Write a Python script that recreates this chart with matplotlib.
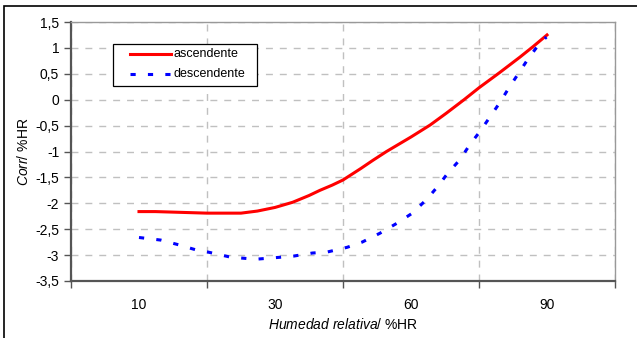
import matplotlib
matplotlib.use('Agg')
import matplotlib.pyplot as plt
from matplotlib.patches import Rectangle
from matplotlib.lines import Line2D

plt.rcParams['font.family'] = ['Liberation Sans', 'DejaVu Sans']
plt.rcParams['mathtext.fontset'] = 'custom'
plt.rcParams['mathtext.rm'] = 'Liberation Sans'
plt.rcParams['mathtext.it'] = 'Liberation Sans:italic'

# category labels on the x axis
hr_labels = ['10', '30', '60', '90']
series_names = ['ascendente', 'descendente']

# curves (x in category units: 0 -> "10", 3 -> "90")
asc_pos = [0.0, 0.12, 0.5, 0.75, 0.87, 1.0, 1.13, 1.25, 1.33, 1.42, 1.5,
           1.63, 1.72, 1.82, 1.91, 2.0, 2.14, 2.26, 2.39, 2.5, 2.65, 2.8,
           2.9, 3.0]
asc_val = [-2.16, -2.16, -2.19, -2.19, -2.15, -2.08, -1.98, -1.85, -1.75,
           -1.65, -1.55, -1.33, -1.17, -1.0, -0.86, -0.72, -0.49, -0.26,
           0.0, 0.23, 0.52, 0.82, 1.03, 1.25]

des_pos = [0.0, 0.16, 0.29, 0.42, 0.505, 0.674, 0.857, 1.0, 1.135, 1.275,
           1.385, 1.53, 1.64, 1.77, 1.90, 2.01, 2.117, 2.198, 2.27, 2.359,
           2.432, 2.505, 2.579, 2.652, 2.718, 2.791, 2.864, 2.938, 2.996]
des_val = [-2.66, -2.71, -2.80, -2.90, -2.94, -3.04, -3.08, -3.05, -3.02,
           -2.96, -2.94, -2.85, -2.75, -2.58, -2.38, -2.19, -1.92, -1.67,
           -1.42, -1.16, -0.87, -0.62, -0.34, -0.06, 0.22, 0.51, 0.80, 1.06,
           1.21]

y_ticks = [1.5, 1, 0.5, 0, -0.5, -1, -1.5, -2, -2.5, -3, -3.5]

W, H = 637, 338
fig = plt.figure(figsize=(W / 100, H / 100), dpi=100)
ax = fig.add_axes([71 / W, 1 - 281 / H, 544 / W, 259 / H])

colors = ['#ff0000', '#0000ff']
ax.plot(asc_pos, asc_val, color=colors[0], lw=2.2, solid_joinstyle='round')
ax.plot(des_pos, des_val, color=colors[1], lw=2.2, dashes=(1.7, 4.0),
        dash_capstyle='butt')

ax.set_xlim(-0.5, 3.5)
ax.set_ylim(-3.5, 1.5)

# category axis: ticks/grid at boundaries, labels centered
ax.set_xticks([-0.5, 0.5, 1.5, 2.5, 3.5])
ax.set_xticklabels([])
ax.set_xticks(range(len(hr_labels)), minor=True)
ax.set_xticklabels(hr_labels, minor=True)
ax.tick_params(axis='x', which='major', length=5, width=1, color='#555555',
               direction='out')
ax.tick_params(axis='x', which='minor', length=0, pad=12, labelsize=10)

ax.set_yticks(y_ticks)
ax.set_yticklabels([('%g' % v).replace('.', ',') for v in y_ticks])
ax.tick_params(axis='y', length=5, width=1, color='#555555', labelsize=10)

ax.grid(True, which='major', color='#c0c0c0', linestyle=(0, (5, 5)), lw=1)
ax.set_axisbelow(True)

for s in ['left', 'bottom']:
    ax.spines[s].set_color('#555555')
    ax.spines[s].set_linewidth(1.6)
for s in ['top', 'right']:
    ax.spines[s].set_color('#999999')
    ax.spines[s].set_linewidth(1.0)

ax.set_xlabel(r'$\it{Humedad\ relativa}$/ %HR', fontsize=10, labelpad=4)
ax.set_ylabel(r'$\it{Corr}$/ %HR', fontsize=10, labelpad=3)

# legend drawn by hand (box with wide side padding like the original)
def fx(px):
    return px / W

def fy(py):
    return 1 - py / H

fig.patches.append(Rectangle((fx(113), fy(86)), fx(257) - fx(113),
                             fy(44) - fy(86), transform=fig.transFigure,
                             facecolor='white', edgecolor='black', lw=0.9,
                             zorder=5))
for i, name in enumerate(series_names):
    row_y = fy(54 + 20 * i)
    style = dict(color=colors[i], lw=2.2, transform=fig.transFigure, zorder=6)
    if i == 1:
        style.update(dashes=(1.7, 4.0), dash_capstyle='butt')
    fig.lines.append(Line2D([fx(130), fx(171)], [row_y, row_y], **style))
    fig.text(fx(173), row_y, name, fontsize=9, va='center', ha='left',
             zorder=7)

# outer frame of the picture
fig.patches.append(Rectangle((4 / W, -0.1), 1.2, 1 - 6 / H + 0.1,
                             transform=fig.transFigure, fill=False,
                             edgecolor='black', lw=1.2))

fig.savefig('out.png', dpi=100)
